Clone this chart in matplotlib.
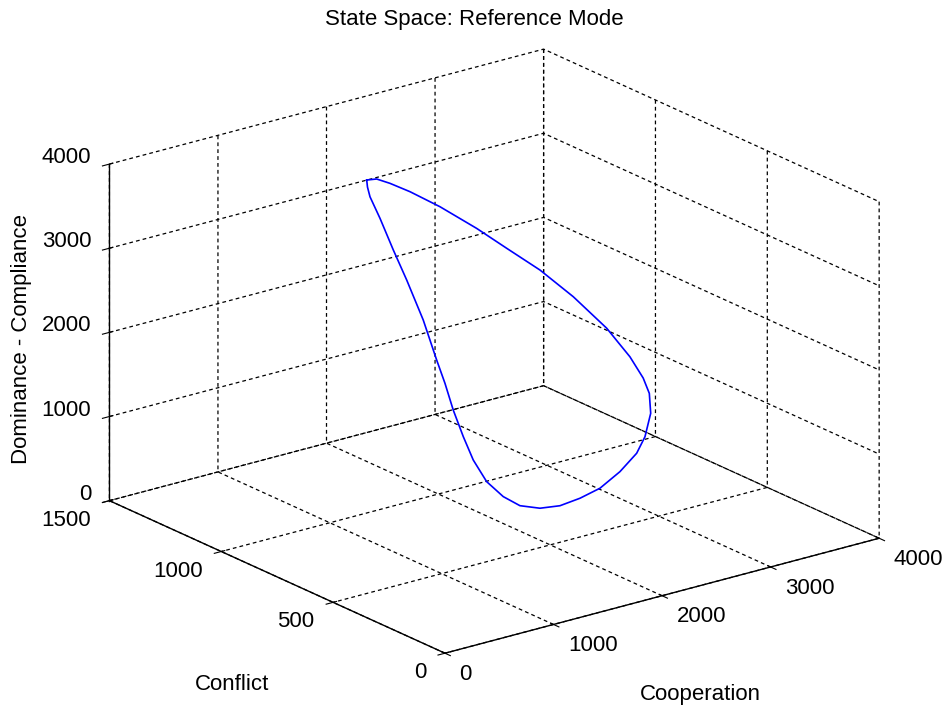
import matplotlib
matplotlib.use('Agg')
import matplotlib.pyplot as plt

# trajectory (closed loop, starts/ends at the top tip)
cooperation = [1340, 1452, 1571, 1739, 1984, 2281, 2506, 2751, 2975, 3201,
               3266, 3332, 3376, 3387, 3338, 3213, 3085, 2859, 2603, 2357,
               2100, 1844, 1608, 1419, 1233, 1085, 981, 880, 810, 748,
               686, 678, 761, 927, 1123, 1244, 1340]
conflict = [1000, 1010, 1008, 1000, 985, 965, 940, 910, 870, 830,
            810, 790, 752, 730, 700, 665, 640, 605, 570, 540,
            505, 470, 445, 428, 412, 400, 394, 390, 393, 400,
            430, 500, 600, 740, 880, 950, 1000]
dominance = [3957, 3919, 3829, 3682, 3438, 3103, 2820, 2514, 2169, 1765,
             1598, 1430, 1208, 1049, 865, 671, 549, 450, 383, 384,
             425, 525, 666, 859, 1120, 1442, 1762, 2118, 2456, 2745,
             3206, 3599, 3806, 3956, 3977, 3967, 3957]

coop_ticks = [0, 1000, 2000, 3000, 4000]
conf_ticks = [0, 500, 1000, 1500]
dom_ticks = [0, 1000, 2000, 3000, 4000]

plt.rcParams['font.family'] = ['Liberation Sans', 'DejaVu Sans']
plt.rcParams['font.size'] = 16
plt.rcParams['grid.color'] = 'black'
plt.rcParams['grid.linestyle'] = (0, (3, 2.5))
plt.rcParams['grid.linewidth'] = 0.9
plt.rcParams['axes.linewidth'] = 1.0

fig = plt.figure(figsize=(9.48, 7.08), dpi=100)
ax = fig.add_axes([0.1379, -0.0095, 0.7468, 1.0], projection='3d',
                  proj_type='ortho')
# matlab default view (az=-37.5, el=30) with stretch-to-fill, expressed as an
# equivalent orthographic view with a flattened box
ax.view_init(elev=20.3, azim=-127.35)
ax.set_box_aspect((546.4, 553.3, 359.0), zoom=1.174)

ax.plot(cooperation, conflict, dominance, color='#0000ff', linewidth=1.2)

ax.set_xlim(0, 4000)
ax.set_ylim(0, 1500)
ax.set_zlim(0, 4000)
ax.set_xticks(coop_ticks)
ax.set_yticks(conf_ticks)
ax.set_zticks(dom_ticks)

for axis in (ax.xaxis, ax.yaxis, ax.zaxis):
    axis.set_pane_color((1, 1, 1, 0))
    axis.pane.set_edgecolor('none')
    axis.line.set_color('black')

# tick label placement closer to the matlab look
plt.setp(ax.get_xticklabels(), ha='left', va='center')
plt.setp(ax.get_yticklabels(), ha='right', va='center')
ax.tick_params(axis='z', pad=-1.7)
plt.setp(ax.get_zticklabels(), ha='right', va='baseline')

fig.text(0.7391, 0.0184, 'Cooperation', ha='center', va='center')
fig.text(0.2444, 0.0325, 'Conflict', ha='center', va='center')
fig.text(0.0232, 0.5212, 'Dominance - Compliance', ha='center', va='center',
         rotation=90)
fig.text(0.5, 0.973, 'State Space: Reference Mode', ha='center', va='center')

fig.savefig('out.png', dpi=100, facecolor='white')
